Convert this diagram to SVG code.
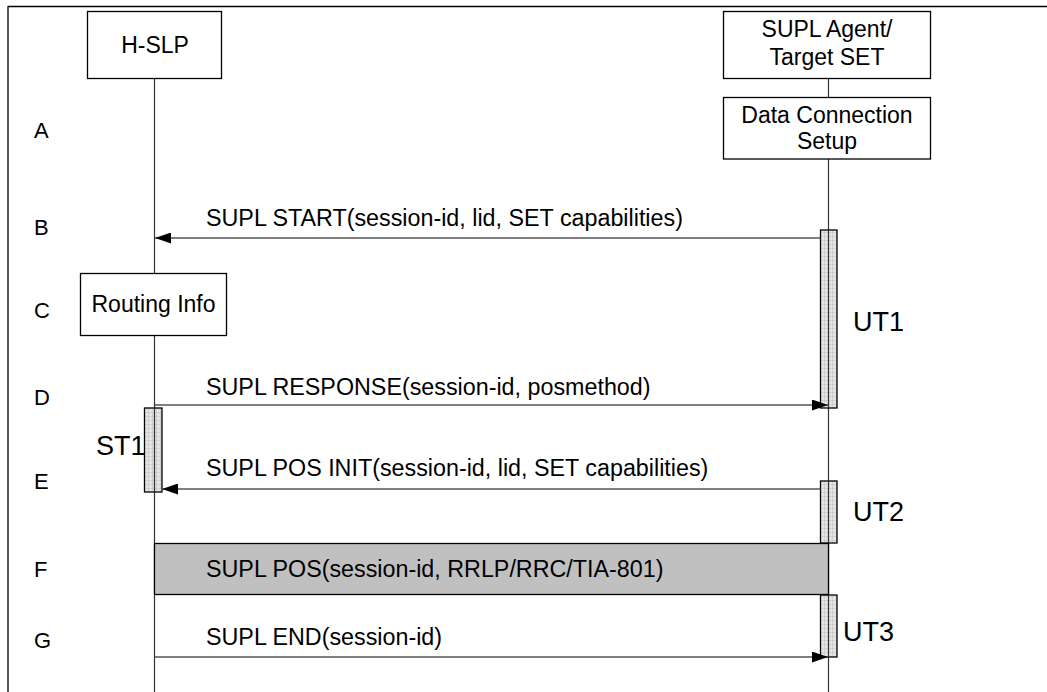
<svg xmlns="http://www.w3.org/2000/svg" width="1047" height="692" viewBox="0 0 1047 692">
<defs>
<style>
text{font-family:"Liberation Sans",Arial,sans-serif;fill:#000}
.lbl{font-size:22px}
.msg{font-size:23.3px}
.nt{font-size:23px;text-anchor:middle}
.big{font-size:27px}
.box{fill:#fff;stroke:#000;stroke-width:1.3}
.life{stroke:#333;stroke-width:1.2;fill:none}
.m{stroke:#555;stroke-width:1.4;fill:none}
.act{fill:url(#grid);stroke:#000;stroke-width:1.3}
</style>
<pattern id="grid" width="4" height="4" patternUnits="userSpaceOnUse">
<rect width="4" height="4" fill="#e4e4e4"/>
<path d="M0 0.5H4M0.5 0V4" stroke="#c4c4c4" stroke-width="0.6"/>
</pattern>
<marker id="ah" markerWidth="16" markerHeight="11" refX="16" refY="5.5" orient="auto" markerUnits="userSpaceOnUse">
<path d="M0 0L16 5.5L0 11Z" fill="#000"/>
</marker>
</defs>
<g id="frame">
<path d="M8 6.5H1047M8 6V692" stroke="#000" stroke-width="1.3" fill="none"/>
</g>
<g id="steps">
<text class="lbl" x="34" y="138">A</text>
<text class="lbl" x="34" y="235">B</text>
<text class="lbl" x="34" y="318">C</text>
<text class="lbl" x="34" y="405">D</text>
<text class="lbl" x="34" y="489">E</text>
<text class="lbl" x="34" y="577">F</text>
<text class="lbl" x="34" y="648">G</text>
</g>
<g id="lifelines">
<path class="life" d="M154.5 79V692"/>
<path class="life" d="M828.5 79V97M828.5 159V692"/>
</g>
<g id="hslp">
<rect class="box" x="87.5" y="11.5" width="134" height="67"/>
<text class="nt" x="155" y="53">H-SLP</text>
</g>
<g id="set">
<rect class="box" x="723.5" y="11.5" width="207" height="67"/>
<text class="nt" x="827" y="37">SUPL Agent/</text>
<text class="nt" x="827" y="65">Target SET</text>
</g>
<g id="dcs">
<rect class="box" x="723.5" y="97.5" width="207" height="61.5"/>
<text class="nt" x="827" y="123">Data Connection</text>
<text class="nt" x="827" y="149">Setup</text>
</g>
<g id="routing">
<rect class="box" x="80.5" y="273.5" width="146" height="62"/>
<text class="nt" x="153.5" y="312">Routing Info</text>
</g>
<g id="ut1">
<rect class="act" x="820.5" y="230" width="16.5" height="178"/>
<path class="life" d="M828.5 230V408"/>
<text class="big" x="853" y="331">UT1</text>
</g>
<g id="st1">
<rect class="act" x="144.5" y="408" width="17.5" height="84"/>
<path class="life" d="M154.5 408V492"/>
<text class="big" x="96" y="455">ST1</text>
</g>
<g id="ut2">
<rect class="act" x="820.5" y="481" width="16.5" height="62"/>
<path class="life" d="M828.5 481V543"/>
<text class="big" x="853" y="521">UT2</text>
</g>
<g id="ut3">
<rect class="act" x="820.5" y="595" width="16.5" height="62"/>
<path class="life" d="M828.5 595V657"/>
<text class="big" x="843" y="641">UT3</text>
</g>
<g id="pos">
<rect x="154.5" y="543.5" width="674" height="51" fill="#c0c0c0" stroke="#000" stroke-width="1.3"/>
<text class="msg" x="206" y="577">SUPL POS(session-id, RRLP/RRC/TIA-801)</text>
</g>
<g id="connectors">
<path class="m" d="M820.5 238H155" marker-end="url(#ah)"/>
<path class="m" d="M155 405H828" marker-end="url(#ah)"/>
<path class="m" d="M820.5 489H162" marker-end="url(#ah)"/>
<path class="m" d="M155 657H828" marker-end="url(#ah)"/>
</g>
<g id="labels">
<text class="msg" x="206" y="226">SUPL START(session-id, lid, SET capabilities)</text>
<text class="msg" x="206" y="395">SUPL RESPONSE(session-id, posmethod)</text>
<text class="msg" x="206" y="476">SUPL POS INIT(session-id, lid, SET capabilities)</text>
<text class="msg" x="206" y="645">SUPL END(session-id)</text>
</g>
</svg>
